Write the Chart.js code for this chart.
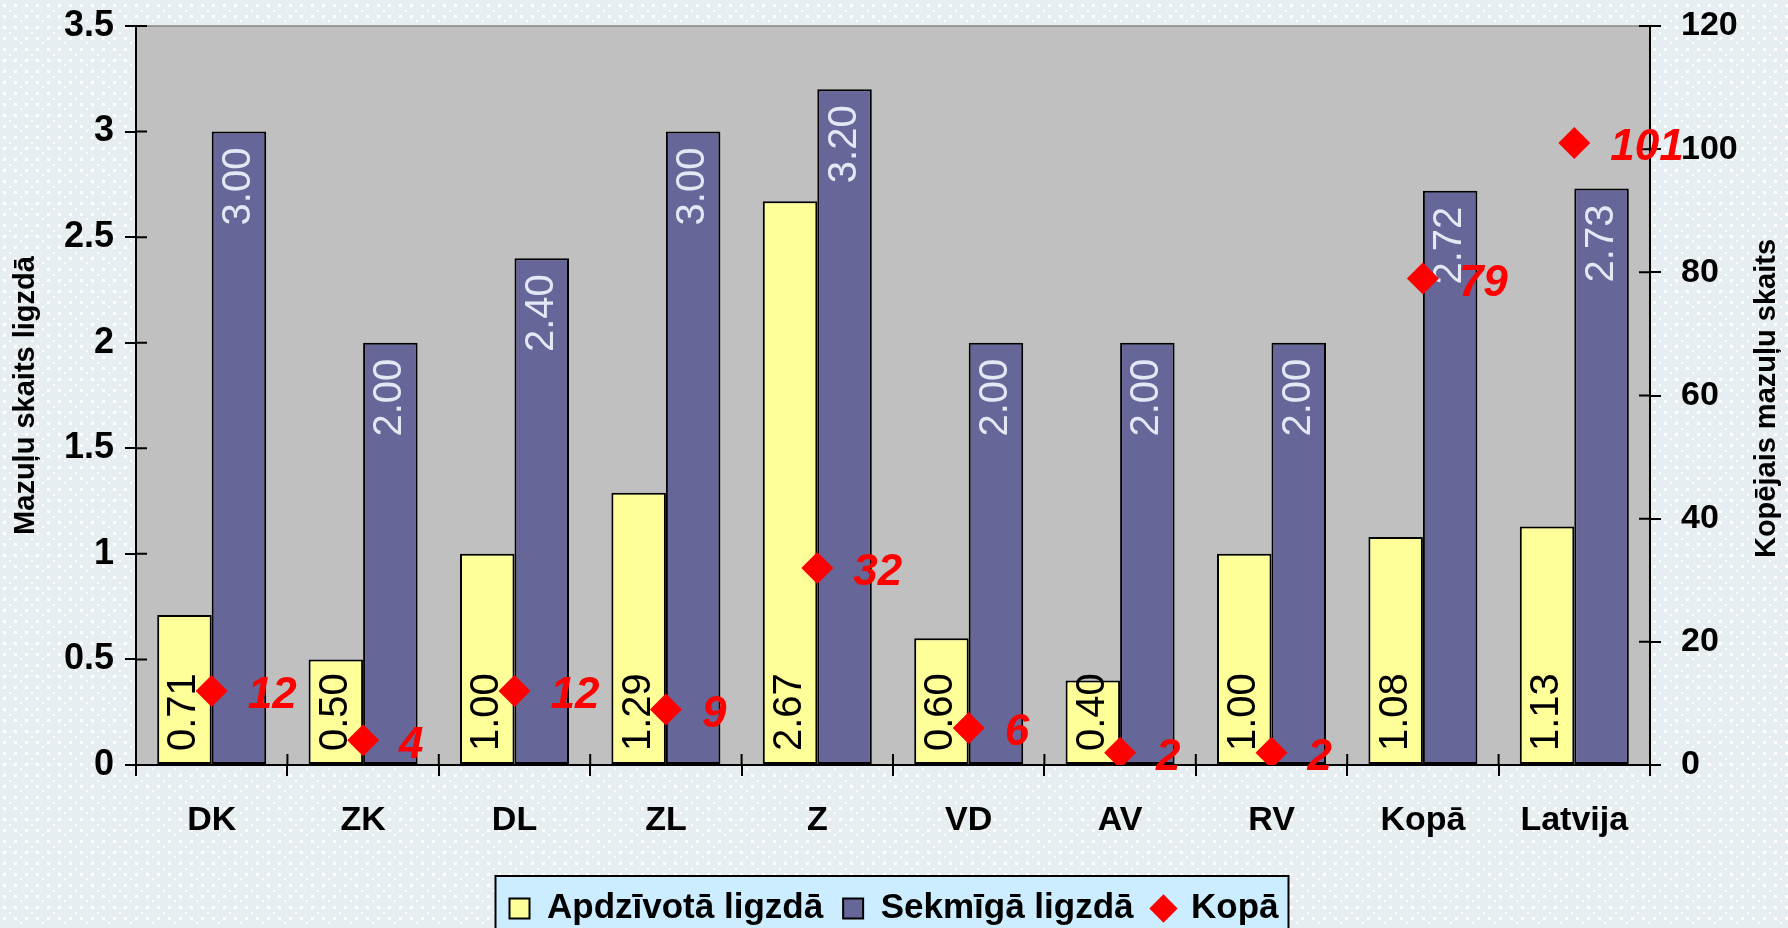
<!DOCTYPE html>
<html>
<head>
<meta charset="utf-8">
<script src="https://cdn.jsdelivr.net/npm/chart.js@4.4.1/dist/chart.umd.min.js"></script>
<style>
html,body{margin:0;padding:0;}
body{width:1788px;height:928px;overflow:hidden;background-color:#E7EEF1;
background-image:url("data:image/svg+xml;utf8,%3Csvg xmlns='http://www.w3.org/2000/svg' width='22' height='22'%3E%3Cg fill='white'%3E%3Crect x='3' y='4' width='3' height='3'/%3E%3Crect x='14' y='4' width='3' height='3'/%3E%3Crect x='3' y='15' width='3' height='3'/%3E%3Crect x='14' y='15' width='3' height='3'/%3E%3Crect x='9' y='10' width='2' height='2'/%3E%3Crect x='20' y='20' width='2' height='2'/%3E%3C/g%3E%3C/svg%3E");}
canvas{display:block;}
</style>
</head>
<body>
<canvas id="c" width="1788" height="928"></canvas>
<script>
const categories = ['DK','ZK','DL','ZL','Z','VD','AV','RV','Kopā','Latvija'];
const seriesNames = ['Apdzīvotā ligzdā','Sekmīgā ligzdā','Kopā'];
const apdzivota = [0.71,0.50,1.00,1.29,2.67,0.60,0.40,1.00,1.08,1.13];
const sekmiga = [3.00,2.00,2.40,3.00,3.20,2.00,2.00,2.00,2.72,2.73];
const kopa = [12,4,12,9,32,6,2,2,79,101];
const leftAxisTitle = 'Mazuļu skaits ligzdā';
const rightAxisTitle = 'Kopējais mazuļu skaits';

const FONT = '"Liberation Sans", Arial, sans-serif';
Chart.defaults.font.family = FONT;
Chart.defaults.color = '#000';

const decor = {
  id: 'decor',
  beforeDraw(chart) {
    const {ctx, chartArea: a} = chart;
    ctx.save();
    ctx.fillStyle = '#C0C0C0';
    ctx.fillRect(a.left, a.top, a.right - a.left, a.bottom - a.top);
    ctx.strokeStyle = '#858585';
    ctx.lineWidth = 1.5;
    ctx.beginPath();
    ctx.moveTo(a.left, a.top);
    ctx.lineTo(a.right, a.top);
    ctx.stroke();
    const lg = chart.legend;
    if (lg && lg.legendHitBoxes && lg.legendHitBoxes.length) {
      const hb = lg.legendHitBoxes;
      const last = hb[hb.length - 1];
      const l = hb[0].left - 14, r = last.left + last.width + 10;
      const t = hb[0].top - 15;
      ctx.fillStyle = '#CCECFF';
      ctx.fillRect(l, t, r - l, 90);
      ctx.strokeStyle = '#000';
      ctx.lineWidth = 2;
      ctx.strokeRect(l, t, r - l, 90);
    }
    ctx.restore();
  },
  beforeDatasetsDraw(chart) {
    const {ctx, chartArea: a, scales} = chart;
    ctx.save();
    ctx.strokeStyle = '#000';
    ctx.lineWidth = 2;
    ctx.beginPath();
    scales.y.ticks.forEach(t => {
      const y = scales.y.getPixelForValue(t.value);
      ctx.moveTo(a.left, y); ctx.lineTo(a.left + 11, y);
    });
    scales.y1.ticks.forEach(t => {
      const y = scales.y1.getPixelForValue(t.value);
      ctx.moveTo(a.right - 11, y); ctx.lineTo(a.right, y);
    });
    const x0 = scales.x.getPixelForValue(0), x1 = scales.x.getPixelForValue(1);
    const step = x1 - x0;
    for (let i = 0; i <= categories.length; i++) {
      const xb = x0 - step / 2 + i * step;
      ctx.moveTo(xb, a.bottom - 11); ctx.lineTo(xb, a.bottom);
    }
    ctx.stroke();
    ctx.restore();
  },
  afterDatasetDraw(chart, args) {
    const i = args.index;
    if (i > 1) return;
    const ctx = chart.ctx;
    const ds = chart.data.datasets[i];
    ctx.save();
    ctx.font = '40px ' + FONT;
    ctx.textBaseline = 'middle';
    args.meta.data.forEach((el, k) => {
      const txt = Number(ds.data[k]).toFixed(2);
      ctx.save();
      if (i === 0) {
        ctx.translate(el.x, el.base - 13);
        ctx.rotate(-Math.PI / 2);
        ctx.textAlign = 'left';
        ctx.fillStyle = '#000';
      } else {
        ctx.translate(el.x, el.y + 16);
        ctx.rotate(-Math.PI / 2);
        ctx.textAlign = 'right';
        ctx.fillStyle = '#E4E8F4';
      }
      ctx.fillText(txt, 0, 0);
      ctx.restore();
    });
    ctx.restore();
  },
  afterDraw(chart) {
    const ctx = chart.ctx;
    const meta = chart.getDatasetMeta(2);
    const ds = chart.data.datasets[2];
    ctx.save();
    ctx.font = 'italic bold 44px ' + FONT;
    ctx.fillStyle = '#FF0000';
    ctx.textAlign = 'left';
    ctx.textBaseline = 'middle';
    meta.data.forEach((el, k) => {
      ctx.fillText(String(ds.data[k]), el.x + 36, el.y + 5);
    });
    ctx.restore();
    ctx.save();
    ctx.font = 'bold 29px ' + FONT;
    ctx.fillStyle = '#000';
    ctx.textAlign = 'center';
    ctx.textBaseline = 'middle';
    const a = chart.chartArea;
    ctx.translate(1767, (a.top + a.bottom) / 2 + 3);
    ctx.rotate(-Math.PI / 2);
    ctx.fillText(rightAxisTitle, 0, 0);
    ctx.restore();
  }
};

new Chart(document.getElementById('c'), {
  type: 'bar',
  data: {
    labels: categories,
    datasets: [
      {
        label: seriesNames[0],
        data: apdzivota,
        backgroundColor: '#FFFF99',
        borderColor: '#000',
        borderWidth: 2,
        borderSkipped: false,
        pointStyle: 'rect',
        yAxisID: 'y',
        order: 0
      },
      {
        label: seriesNames[1],
        data: sekmiga,
        backgroundColor: '#666699',
        borderColor: '#000',
        borderWidth: 2,
        borderSkipped: false,
        pointStyle: 'rect',
        yAxisID: 'y',
        order: 0
      },
      {
        type: 'line',
        label: seriesNames[2],
        data: kopa,
        yAxisID: 'y1',
        showLine: false,
        pointStyle: 'rectRot',
        pointRadius: 16,
        pointHoverRadius: 16,
        backgroundColor: '#FF0000',
        borderColor: '#FF0000',
        pointBackgroundColor: '#FF0000',
        pointBorderWidth: 0,
        borderWidth: 0,
        order: -1
      }
    ]
  },
  options: {
    responsive: false,
    devicePixelRatio: 1,
    animation: false,
    layout: {padding: {left: 0, right: 0, top: 26, bottom: -8}},
    datasets: {bar: {categoryPercentage: 0.72, barPercentage: 1.0}},
    plugins: {
      tooltip: {enabled: false},
      legend: {
        position: 'bottom',
        labels: {
          usePointStyle: true,
          boxWidth: 20,
          boxHeight: 20,
          padding: 20,
          color: '#000',
          font: {size: 35, weight: 'bold'},
          sort: (a, b) => a.datasetIndex - b.datasetIndex
        }
      }
    },
    scales: {
      x: {
        offset: true,
        grid: {offset: true, drawOnChartArea: false, drawTicks: true, tickLength: 11, color: '#000', lineWidth: 2},
        border: {display: true, color: '#000', width: 2},
        ticks: {font: {size: 34, weight: 'bold'}, color: '#000', padding: 24, maxRotation: 0, autoSkip: false},
        afterFit(s) { s.height = 106; s.paddingLeft = 0; s.paddingRight = 0; }
      },
      y: {
        position: 'left',
        min: 0, max: 3.5,
        ticks: {stepSize: 0.5, font: {size: 36, weight: 'bold'}, color: '#000', padding: 11, callback: v => String(v)},
        grid: {drawOnChartArea: false, drawTicks: true, tickLength: 11, color: '#000', lineWidth: 2},
        border: {display: true, color: '#000', width: 2},
        title: {display: true, text: leftAxisTitle, font: {size: 29, weight: 'bold'}, color: '#000', padding: {top: 9, bottom: 0}},
        afterFit(s) { s.width = 136; s.paddingTop = 0; s.paddingBottom = 0; }
      },
      y1: {
        position: 'right',
        min: 0, max: 120,
        ticks: {stepSize: 20, font: {size: 34, weight: 'bold'}, color: '#000', padding: 20},
        grid: {drawOnChartArea: false, drawTicks: true, tickLength: 11, color: '#000', lineWidth: 2},
        border: {display: true, color: '#000', width: 2},
        afterFit(s) { s.width = 138; s.paddingTop = 0; s.paddingBottom = 0; }
      }
    }
  },
  plugins: [decor]
});
</script>
</body>
</html>
